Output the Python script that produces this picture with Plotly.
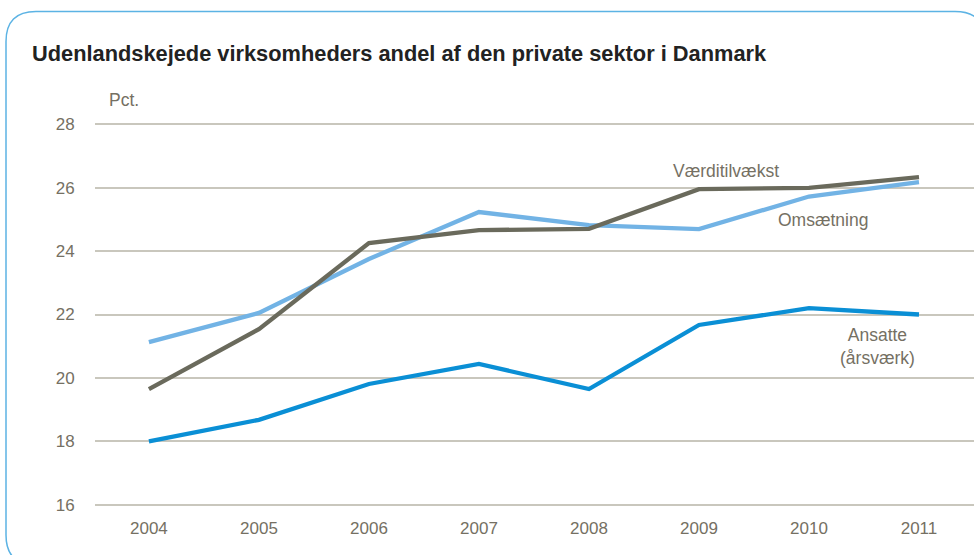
import plotly.graph_objects as go

years = [2004, 2005, 2006, 2007, 2008, 2009, 2010, 2011]
ansatte = [18.0, 18.68, 19.81, 20.44, 19.65, 21.67, 22.2, 22.0]
omsaetning = [21.13, 22.05, 23.75, 25.23, 24.82, 24.69, 25.72, 26.17]
vaerditilvaekst = [19.65, 21.54, 24.25, 24.66, 24.7, 25.95, 25.99, 26.33]
y_ticks = [16, 18, 20, 22, 24, 26, 28]

FONT = "Liberation Sans, Arial, sans-serif"
TXT = "#757063"
LS = 17.5

W, H = 974, 555
ML, MR, MT, MB = 95, 0, 121, 47
PW = W - ML - MR
PH = H - MT - MB

def px(x, y):
    return (x - ML) / PW, (H - MB - y) / PH

def frame_path():
    L, T, R, B, r = 6, 11.5, 985, 565, 30
    seq = [("M", [(L, B - r)]), ("L", [(L, T + r)]), ("Q", [(L, T), (L + r, T)]),
           ("L", [(R - r, T)]), ("Q", [(R, T), (R, T + r)]), ("L", [(R, B - r)]),
           ("Q", [(R, B), (R - r, B)]), ("L", [(L + r, B)]), ("Q", [(L, B), (L, B - r)])]
    s = ""
    for cmd, ps in seq:
        s += cmd + " " + " ".join("%.5f,%.5f" % px(*p) for p in ps) + " "
    return s + "Z"

fig = go.Figure()
fig.add_trace(go.Scatter(x=years, y=omsaetning, mode="lines", name="Omsætning",
                         line=dict(color="#72b3e5", width=4.3)))
fig.add_trace(go.Scatter(x=years, y=vaerditilvaekst, mode="lines", name="Værditilvækst",
                         line=dict(color="#6a6a5c", width=4.3)))
fig.add_trace(go.Scatter(x=years, y=ansatte, mode="lines", name="Ansatte (årsværk)",
                         line=dict(color="#0a8fd5", width=4.3)))

fig.update_layout(
    width=W, height=H, margin=dict(l=ML, r=MR, t=MT, b=MB),
    paper_bgcolor="white", plot_bgcolor="white", showlegend=False,
    font=dict(family=FONT, color=TXT, size=17),
    xaxis=dict(range=[2003.51, 2011.5], tickvals=years, ticktext=[str(y) for y in years],
               showgrid=False, zeroline=False, showline=False,
               ticks="outside", ticklen=5, tickcolor="rgba(0,0,0,0)",
               tickfont=dict(size=17, color=TXT, family=FONT)),
    yaxis=dict(range=[15.9, 28.1], tickvals=y_ticks, showgrid=True, gridcolor="#c9c7bd",
               gridwidth=1.5, zeroline=False, showline=False,
               ticks="outside", ticklen=16, tickcolor="rgba(0,0,0,0)",
               tickfont=dict(size=17, color=TXT, family=FONT)),
)

fig.add_shape(type="path", path=frame_path(), xref="paper", yref="paper",
              line=dict(color="#5cb3e4", width=1.5), fillcolor="rgba(0,0,0,0)", layer="below")

def ann(text, x, y, **kw):
    xp, yp = px(x, y)
    fig.add_annotation(text=text, x=xp, y=yp, xref="paper", yref="paper",
                       showarrow=False, **kw)

ann("<b>Udenlandskejede virksomheders andel af den private sektor i Danmark</b>", 30, 53,
    xanchor="left", yanchor="middle", font=dict(size=21.8, color="#222222", family=FONT))
ann("Pct.", 107, 100, xanchor="left", yanchor="middle", font=dict(size=LS, color=TXT, family=FONT))
ann("Værditilvækst", 726, 171, xanchor="center", yanchor="middle", font=dict(size=LS, color=TXT, family=FONT))
ann("Omsætning", 823, 220, xanchor="center", yanchor="middle", font=dict(size=LS, color=TXT, family=FONT))
ann("Ansatte<br>(årsværk)", 877, 346, xanchor="center", yanchor="middle", align="center",
    font=dict(size=LS, color=TXT, family=FONT))

fig.write_html("out.html", config={"displayModeBar": False},
               post_script="document.body.style.margin='0';")
